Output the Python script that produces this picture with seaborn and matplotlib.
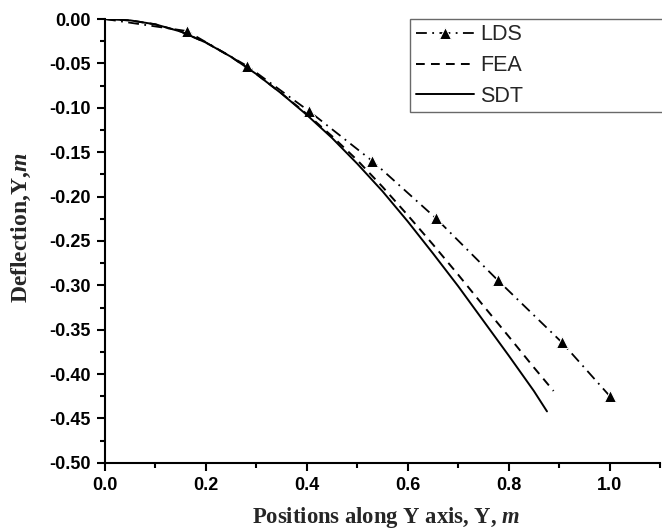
import matplotlib
matplotlib.use("Agg")
import matplotlib.pyplot as plt
import seaborn as sns
from matplotlib.ticker import MultipleLocator

# LDS data (first point at origin has no marker)
lds_x = [0.0, 0.162, 0.282, 0.405, 0.530, 0.656, 0.778, 0.905, 1.000]
lds_y = [0.0, -0.0135, -0.053, -0.104, -0.160, -0.2245, -0.294, -0.364, -0.4245]

# FEA data
fea_x = [0.0, 0.05, 0.10, 0.15, 0.20, 0.25, 0.30, 0.35, 0.40, 0.45, 0.50, 0.55,
         0.60, 0.65, 0.70, 0.75, 0.80, 0.85, 0.889]
fea_y = [0.0, -0.0015, -0.006, -0.014, -0.0265, -0.0426, -0.062, -0.0838, -0.107, -0.132,
         -0.159, -0.189, -0.221, -0.254, -0.288, -0.323, -0.3575, -0.3925, -0.419]

# SDT data
sdt_x = [0.0, 0.05, 0.10, 0.15, 0.20, 0.25, 0.30, 0.35, 0.40, 0.45, 0.50, 0.55,
         0.60, 0.65, 0.70, 0.75, 0.80, 0.85, 0.876]
sdt_y = [0.0, -0.0015, -0.006, -0.0141, -0.0265, -0.0426, -0.062, -0.084, -0.108, -0.134,
         -0.163, -0.194, -0.228, -0.264, -0.301, -0.340, -0.379, -0.419, -0.442]

sns.set_theme(style="ticks")
plt.rcParams["font.family"] = ["Liberation Sans", "DejaVu Sans"]
plt.rcParams["mathtext.fontset"] = "custom"
plt.rcParams["mathtext.it"] = "Liberation Serif:bold:italic"
plt.rcParams["mathtext.rm"] = "Liberation Serif:bold"

fig = plt.figure(figsize=(6.62, 5.29), dpi=100)
ax = fig.add_axes([0.1586, 0.125, 0.8384, 0.839])

sns.lineplot(x=lds_x, y=lds_y, ax=ax, color="black", lw=1.3, linestyle=(0, (6, 3, 1, 3)),
             marker="^", markersize=9, markevery=list(range(1, len(lds_x))), label="LDS",
             sort=False, estimator=None)
sns.lineplot(x=fea_x, y=fea_y, ax=ax, color="black", lw=1.4, linestyle=(0, (4.5, 3.2)),
             label="FEA", sort=False, estimator=None)
sns.lineplot(x=sdt_x, y=sdt_y, ax=ax, color="black", lw=1.4, linestyle="-",
             label="SDT", sort=False, estimator=None)

ax.set_xlim(0, 1.1)
ax.set_ylim(-0.5, 0)
ax.xaxis.set_major_locator(MultipleLocator(0.2))
ax.xaxis.set_minor_locator(MultipleLocator(0.1))
ax.yaxis.set_major_locator(MultipleLocator(0.05))
ax.yaxis.set_minor_locator(MultipleLocator(0.025))
ax.xaxis.set_major_formatter(plt.FormatStrFormatter("%.1f"))
ax.yaxis.set_major_formatter(plt.FormatStrFormatter("%.2f"))

for side in ["top", "right"]:
    ax.spines[side].set_visible(False)
for side in ["left", "bottom"]:
    ax.spines[side].set_linewidth(1.5)
    ax.spines[side].set_color("black")

ax.tick_params(which="major", direction="out", length=6, width=1.5, color="black",
               labelsize=13, labelcolor="black", pad=4)
ax.tick_params(which="minor", direction="out", length=3.5, width=1.5, color="black")
for lab in ax.get_xticklabels() + ax.get_yticklabels():
    lab.set_fontweight("bold")

ax.set_xlabel("Positions along Y axis, Y, $\\mathit{m}$", fontsize=16.3,
              fontfamily="Liberation Serif", fontweight="bold")
ax.set_ylabel("Deflection,Y,$\\mathit{m}$", fontsize=17,
              fontfamily="Liberation Serif", fontweight="bold")
ax.xaxis.set_label_coords(0.506, -0.095)
ax.yaxis.set_label_coords(-0.13, 0.529)

leg = ax.legend(loc="upper left", bbox_to_anchor=(0.55, 1.0, 0.6, 0), mode="expand",
                frameon=True, fancybox=False, fontsize=15.5, handlelength=2.7,
                borderpad=0.25, labelspacing=0.45, handletextpad=0.3, borderaxespad=0)
leg.get_frame().set_edgecolor("#444444")
leg.get_frame().set_linewidth(1.0)

fig.savefig("out.png", dpi=100)
